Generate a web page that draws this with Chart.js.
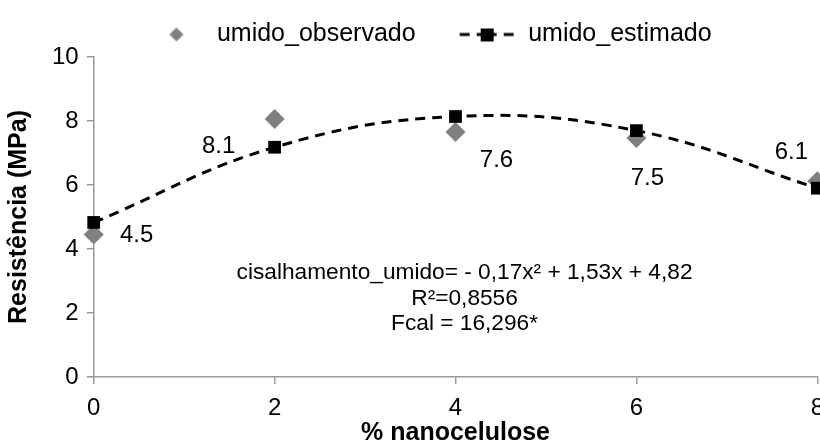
<!DOCTYPE html>
<html lang="pt">
<head>
<meta charset="utf-8">
<title>Resistência - umido</title>
<script src="https://cdn.jsdelivr.net/npm/chart.js@4.4.1/dist/chart.umd.min.js"></script>
<style>
  html, body { margin: 0; padding: 0; background: #fff; overflow: hidden; }
  canvas { display: block; }
</style>
</head>
<body>
<canvas id="grafico" width="836" height="446"></canvas>
<script>
// dados
var nanocelulose = [0, 2, 4, 6, 8];
var umidoObservado = [4.45, 8.06, 7.66, 7.47, 6.12];
var umidoEstimado = [4.83, 7.18, 8.14, 7.70, 5.90];
var rotulosObservado = ['4.5', '8.1', '7.6', '7.5', '6.1'];
var xTicks = [0, 2, 4, 6, 8];
var equacao = ['cisalhamento_umido= - 0,17x² + 1,53x + 4,82', 'R²=0,8556', 'Fcal = 16,296*'];

var fonte = '"Liberation Sans", Arial, sans-serif';
Chart.defaults.font.family = fonte;
Chart.defaults.color = '#000';

// simbolos da legenda
function simboloObs() {
  var c = document.createElement('canvas');
  c.width = 80; c.height = 20;
  var g = c.getContext('2d');
  g.fillStyle = '#808080';
  g.beginPath();
  g.moveTo(52, 3); g.lineTo(59, 10); g.lineTo(52, 17); g.lineTo(45, 10);
  g.closePath(); g.fill();
  return c;
}
function simboloEst() {
  var c = document.createElement('canvas');
  c.width = 80; c.height = 20;
  var g = c.getContext('2d');
  g.strokeStyle = '#000'; g.lineWidth = 3;
  g.beginPath();
  g.moveTo(24, 10); g.lineTo(34, 10);
  g.moveTo(68, 10); g.lineTo(78, 10);
  g.stroke();
  g.fillStyle = '#000';
  g.fillRect(45, 4, 13, 13);
  g.beginPath(); g.moveTo(41, 10); g.lineTo(61, 10); g.stroke();
  return c;
}

var rotulos = {
  id: 'rotulos',
  afterDatasetsDraw: function(chart) {
    var ctx = chart.ctx;
    var meta = chart.getDatasetMeta(0);
    var desloc = [[43, 1], [-56, 27], [41, 28], [11, 40], [-26, -29]];
    ctx.save();
    ctx.font = '24px ' + fonte;
    ctx.fillStyle = '#000';
    ctx.textAlign = 'center';
    ctx.textBaseline = 'middle';
    meta.data.forEach(function(p, i) {
      ctx.fillText(rotulosObservado[i], p.x + desloc[i][0], p.y + desloc[i][1]);
    });
    // equacao
    var xs = chart.scales.x, ys = chart.scales.y;
    ctx.font = '22.7px ' + fonte;
    var cx = xs.getPixelForValue(4.1);
    var linhas = [3.26, 2.45, 1.66];
    equacao.forEach(function(t, i) {
      ctx.fillText(t, cx, ys.getPixelForValue(linhas[i]));
    });
    ctx.restore();
  }
};

var ctx = document.getElementById('grafico').getContext('2d');
var grafico = new Chart(ctx, {
  type: 'line',
  data: {
    datasets: [{
      label: 'umido_observado',
      data: nanocelulose.map(function(x, i) { return {x: x, y: umidoObservado[i]}; }),
      showLine: false,
      pointStyle: 'rectRot',
      pointRadius: 10,
      pointBackgroundColor: '#808080',
      pointBorderColor: '#808080',
      pointBorderWidth: 0,
      backgroundColor: '#808080',
      borderColor: '#808080',
      order: 1,
      clip: false
    }, {
      label: 'umido_estimado',
      data: nanocelulose.map(function(x, i) { return {x: x, y: umidoEstimado[i]}; }),
      borderColor: '#000',
      backgroundColor: '#000',
      borderWidth: 3,
      borderDash: [10, 7],
      tension: 0.4,
      pointStyle: 'rect',
      pointRadius: 9,
      pointBackgroundColor: '#000',
      pointBorderWidth: 0,
      order: 0,
      clip: false
    }]
  },
  options: {
    responsive: false,
    animation: false,
    layout: { padding: { left: 0, right: 0, top: 2, bottom: 0 } },
    plugins: {
      tooltip: { enabled: false },
      legend: {
        position: 'top',
        labels: {
          usePointStyle: true,
          pointStyleWidth: 80,
          padding: 20,
          font: { size: 25 },
          color: '#000',
          generateLabels: function(chart) {
            var itens = Chart.defaults.plugins.legend.labels.generateLabels(chart);
            itens.sort(function(a, b) { return a.datasetIndex - b.datasetIndex; });
            itens.forEach(function(it) {
              it.pointStyle = it.datasetIndex === 0 ? simboloObs() : simboloEst();
            });
            return itens;
          }
        }
      }
    },
    scales: {
      x: {
        type: 'linear',
        min: 0, max: 8,
        afterBuildTicks: function(s) { s.ticks = xTicks.map(function(v) { return {value: v}; }); },
        grid: { drawOnChartArea: false, drawTicks: true, tickLength: 7, color: '#999', lineWidth: 1.5 },
        border: { color: '#999', width: 1.5 },
        ticks: { font: { size: 24, lineHeight: 1 }, color: '#000', padding: 12, maxRotation: 0 },
        title: { display: true, text: '% nanocelulose', font: { size: 25, weight: 'bold', lineHeight: 1 }, color: '#000', padding: { top: -11, bottom: 0 } }
      },
      y: {
        min: 0, max: 10,
        ticks: { stepSize: 2, font: { size: 24 }, color: '#000', padding: 8 },
        grid: { drawOnChartArea: false, drawTicks: true, tickLength: 7, color: '#999', lineWidth: 1.5 },
        border: { color: '#999', width: 1.5 },
        title: { display: true, text: 'Resistência (MPa)', font: { size: 25, weight: 'bold' }, color: '#000', padding: { top: 4, bottom: 10 } }
      }
    }
  },
  plugins: [rotulos]
});
</script>
</body>
</html>
